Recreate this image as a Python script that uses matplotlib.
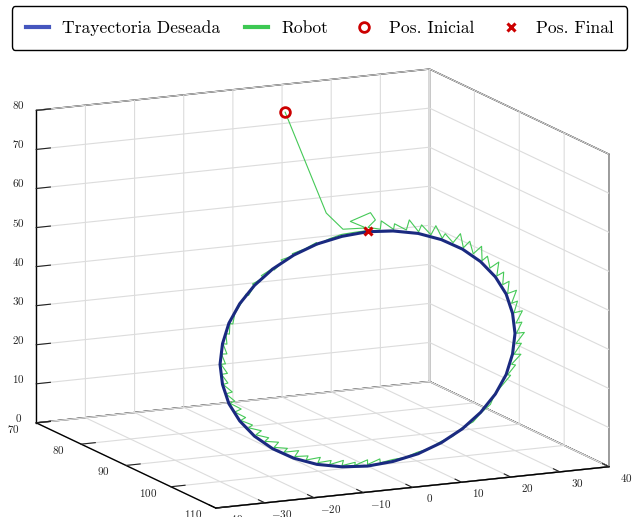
import numpy as np
import matplotlib
matplotlib.use('Agg')
import matplotlib.pyplot as plt
import matplotlib.transforms as mtransforms
from matplotlib.lines import Line2D

plt.rcParams['font.family'] = 'serif'
plt.rcParams['font.serif'] = ['cmr10', 'DejaVu Serif']
plt.rcParams['mathtext.fontset'] = 'cm'
plt.rcParams['axes.formatter.use_mathtext'] = True

# ---------------- data ----------------
x_ticks = [-40, -30, -20, -10, 0, 10, 20, 30, 40]
y_ticks = [70, 80, 90, 100, 110]
z_ticks = [0, 10, 20, 30, 40, 50, 60, 70, 80]

# desired trajectory (circle in the plane y = 100)
des_x = [0.0, 5.2, 10.3, 15.0, 19.3, 23.0, 26.0, 28.2, 29.5, 30.0, 29.5, 28.2, 26.0, 23.0, 19.3,
         15.0, 10.3, 5.2, 0.0, -5.2, -10.3, -15.0, -19.3, -23.0, -26.0, -28.2, -29.5, -30.0,
         -29.5, -28.2, -26.0, -23.0, -19.3, -15.0, -10.3, -5.2, 0.0]
des_z = [60.0, 59.5, 58.2, 56.0, 53.0, 49.3, 45.0, 40.3, 35.2, 30.0, 24.8, 19.7, 15.0, 10.7, 7.0,
         4.0, 1.8, 0.5, 0.0, 0.5, 1.8, 4.0, 7.0, 10.7, 15.0, 19.7, 24.8, 30.0, 35.2, 40.3, 45.0,
         49.3, 53.0, 56.0, 58.2, 59.5, 60.0]
des_y = [100.0] * len(des_x)

# robot trajectory
rob_x = [1.5, -8.4, -5.0, -0.3, -3.5, 0.6, 1.6, 0.1,
         2.6, 2.8, 5.3, 5.5, 7.9, 8.5, 10.4, 11.0, 12.9, 13.9, 15.2, 15.8, 17.4, 18.9,
         19.5, 20.8, 21.5, 23.2, 23.3, 24.4, 24.9, 26.7, 26.3, 27.7,
         27.5, 28.8, 28.5, 30.3, 29.3, 30.5, 29.8, 31.5, 30.2, 31.4, 30.3, 31.9,
         30.2, 31.3, 29.8, 31.2, 29.3, 30.1, 28.5, 29.1,
         27.5, 25.9, 25.0, 23.1, 21.5, 19.2, 17.3, 14.9, 12.7, 10.1, 7.7, 5.1,
         2.6, 2.5, 0.0, 0.0, -2.6, -2.5, -5.2, -4.9, -7.7, -7.4, -10.1, -9.6, -12.5, -12.1,
         -14.8, -14.0, -17.0, -16.3, -19.0, -18.1, -20.9, -20.1, -22.7, -21.6, -24.2, -23.4,
         -25.8, -24.8, -27.0, -25.7, -28.0, -27.0, -28.8, -27.5, -29.4, -28.4, -29.7, -28.5,
         -29.8, -28.9, -29.7, -28.6, -29.4, -28.6, -28.8, -28.1, -28.0, -27.4, -27.0, -25.8,
         -24.7, -24.2, -23.0, -23.4, -21.1, -21.6, -19.4, -19.0, -17.2, -17.6, -15.0, -15.3,
         -12.7, -10.4, -10.2, -7.8, -5.3, -2.6, 0.0]
rob_z = [79.5, 65.9, 61.3, 61.0, 63.1, 64.8, 62.8, 61.1,
         60.3, 62.4, 59.9, 61.3, 59.4, 61.9, 58.6, 60.3, 57.5, 59.7, 56.3, 57.4, 54.9, 57.0,
         53.3, 54.8, 51.5, 53.2, 49.5, 50.5, 47.4, 48.7, 45.2, 46.0,
         42.8, 43.5, 40.4, 41.0, 37.8, 38.2, 35.3, 35.6, 32.6, 32.7, 30.0, 30.0,
         27.4, 27.3, 24.7, 24.5, 22.2, 21.9, 19.6, 19.4,
         17.2, 15.1, 12.5, 10.6, 8.5, 7.2, 5.3, 4.3, 2.8, 2.2, 1.2, 1.0,
         0.5, 1.5, 0.4, 1.6, 0.5, 1.3, 0.8, 2.1, 1.4, 2.4, 2.2, 3.5, 3.2, 4.2,
         4.4, 5.8, 5.8, 6.7, 7.3, 8.5, 9.1, 9.9, 11.0, 11.9, 13.0, 13.6,
         15.1, 15.7, 17.4, 18.0, 19.8, 20.2, 22.3, 22.6, 24.8, 25.0, 27.4, 27.5,
         30.0, 30.0, 32.6, 32.5, 35.2, 35.0, 37.7, 37.5, 40.2, 40.0, 42.6, 44.9,
         47.3, 46.9, 49.3, 49.7, 51.1, 51.6, 53.1, 52.7, 54.6, 55.1, 55.9, 56.4,
         57.3, 58.6, 58.0, 59.2, 60.0, 60.2, 60.3]
rob_y = [80.0] + [100.0] * (len(rob_x) - 1)

init_pos = (1.5, 80.0, 79.5)
final_pos = (0.0, 100.0, 60.3)

labels = ['Trayectoria Deseada', 'Robot', 'Pos. Inicial', 'Pos. Final']

# ---------------- figure ----------------
fig = plt.figure(figsize=(6.33, 5.17), dpi=100)
ax = fig.add_axes([0.0, -0.010, 1.0, 0.88], projection='3d', proj_type='ortho')
ax.set_box_aspect((4, 3.88, 2.95), zoom=1.462)
ax.view_init(elev=12.9, azim=-115.2)
ax.set_xlim(-40, 40)
ax.set_ylim(110, 70)
ax.set_zlim(0, 80)
ax.set_xticks(x_ticks)
ax.set_yticks(y_ticks)
ax.set_zticks(z_ticks)
ax.tick_params(labelsize=8, colors='#222222', pad=-8)

for axis in (ax.xaxis, ax.yaxis, ax.zaxis):
    axis.set_pane_color((1, 1, 1, 1))
    axis.pane.set_edgecolor('black')
    axis.pane.set_linewidth(1.0)
    axis.line.set_color('black')
    axis.line.set_linewidth(1.0)
    axis._axinfo['grid'].update(color='#dcdcdc', linewidth=0.8)
    axis._axinfo['tick']['inward_factor'] = 0.0
    axis._axinfo['tick']['outward_factor'] = 0.45


# small fixed offsets (inches) of the tick labels from the box edges
def _offset_ticklabels(axis, dx, dy):
    original = axis.get_major_ticks

    def get_major_ticks(numticks=None):
        ticks = original(numticks)
        for t in ticks:
            t.label1.set_horizontalalignment('center')
            t.label1.set_verticalalignment('center')
            t.label1.set_transform(ax.transData + mtransforms.ScaledTranslation(
                dx, dy, fig.dpi_scale_trans))
        return ticks
    axis.get_major_ticks = get_major_ticks


_offset_ticklabels(ax.xaxis, 0.17, -0.11)
_offset_ticklabels(ax.yaxis, -0.23, -0.06)
_offset_ticklabels(ax.zaxis, -0.18, 0.05)

ax.computed_zorder = False
ax.plot(rob_x, rob_y, rob_z, color='#45c957', linewidth=0.8, zorder=2)
ax.plot(des_x, des_y, des_z, color='#1a2a80', linewidth=2.2, zorder=3)
ax.plot([init_pos[0]], [init_pos[1]], [init_pos[2]], 'o', mfc='none', mec='#cc0000',
        mew=2, ms=7, zorder=5)
ax.plot([final_pos[0]], [final_pos[1]], [final_pos[2]], 'x', color='#cc0000',
        mew=2.2, ms=6, zorder=5)

handles = [
    Line2D([], [], color='#4556be', linewidth=3),
    Line2D([], [], color='#3dc853', linewidth=3),
    Line2D([], [], linestyle='none', marker='o', mfc='none', mec='#cc0000', mew=2, ms=7),
    Line2D([], [], linestyle='none', marker='x', color='#cc0000', mew=2.2, ms=6),
]
fig.legend(handles, labels, loc='upper center', bbox_to_anchor=(0.5047, 0.995), ncol=4,
           fontsize=12.6, frameon=True, fancybox=True, edgecolor='black', framealpha=1,
           columnspacing=1.38, handlelength=1.35, handletextpad=0.75, borderpad=0.8,
           borderaxespad=0.2)

fig.savefig('out.png', dpi=100)
